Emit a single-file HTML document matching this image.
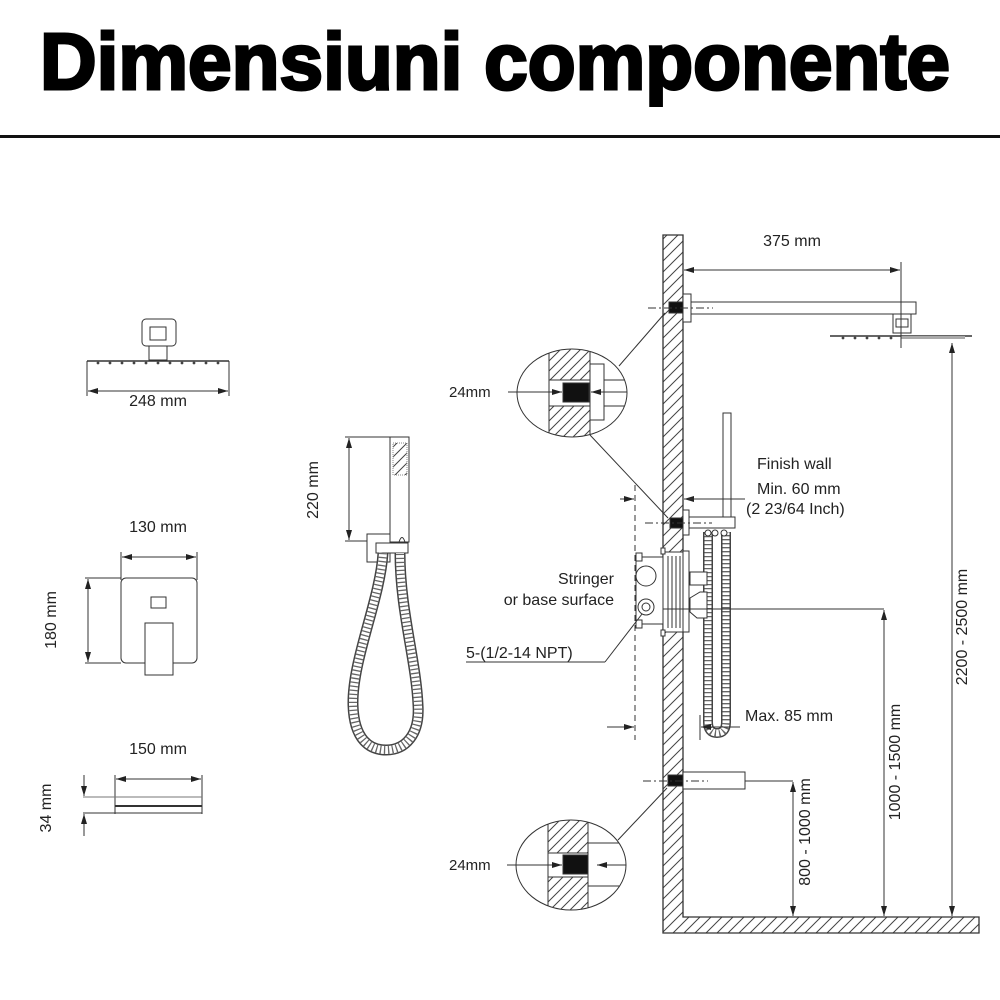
<!DOCTYPE html>
<html><head><meta charset="utf-8"><style>
html,body{margin:0;padding:0;background:#fff;}
svg{display:block;}
text{font-family:"Liberation Sans",Arial,sans-serif;fill:#222;}
</style></head><body>
<svg width="1000" height="1000" viewBox="0 0 1000 1000" xmlns="http://www.w3.org/2000/svg">
<defs>
<pattern id="h" patternUnits="userSpaceOnUse" width="11" height="11">
<path d="M0 11 L11 0 M-3 3 L3 -3 M8 14 L14 8" stroke="#444" stroke-width="1"/>
</pattern>
<pattern id="h2" patternUnits="userSpaceOnUse" width="10" height="10">
<path d="M0 10 L10 0 M-3 3 L3 -3 M7 13 L13 7" stroke="#444" stroke-width="1"/>
</pattern>
<marker id="a" viewBox="0 0 10 6" refX="10" refY="3" markerWidth="10" markerHeight="6" markerUnits="userSpaceOnUse" orient="auto-start-reverse">
<path d="M0 0 L10 3 L0 6 Z" fill="#222"/>
</marker>
<clipPath id="c1"><ellipse cx="572" cy="393" rx="55" ry="44"/></clipPath>
<clipPath id="c2"><ellipse cx="571" cy="865" rx="55" ry="45"/></clipPath>
</defs>

<!-- Title -->
<text x="40" y="89" font-size="80" font-weight="bold" textLength="910" lengthAdjust="spacingAndGlyphs" style="fill:#000" stroke="#000" stroke-width="3">Dimensiuni componente</text>
<rect x="0" y="135" width="1000" height="3" fill="#111"/>

<g stroke="#333" stroke-width="1" fill="none">

<!-- ===== Left: small shower head ===== -->
<rect x="142" y="319" width="34" height="27" rx="4" fill="#fff"/>
<rect x="150" y="327" width="16" height="13"/>
<rect x="149" y="346" width="18" height="14"/>
<line x1="87" y1="361" x2="229" y2="361" stroke-width="1.5"/>
<line x1="87" y1="361" x2="87" y2="396"/>
<line x1="229" y1="361" x2="229" y2="396"/>
<line x1="88" y1="391" x2="228" y2="391" marker-start="url(#a)" marker-end="url(#a)"/>
</g>
<g fill="#444">
<circle cx="98" cy="363" r="1.4"/><circle cx="110" cy="363" r="1.4"/><circle cx="122" cy="363" r="1.4"/><circle cx="134" cy="363" r="1.4"/><circle cx="146" cy="363" r="1.4"/><circle cx="158" cy="363" r="1.4"/><circle cx="170" cy="363" r="1.4"/><circle cx="182" cy="363" r="1.4"/><circle cx="194" cy="363" r="1.4"/><circle cx="206" cy="363" r="1.4"/><circle cx="218" cy="363" r="1.4"/>
</g>
<text x="158" y="406" font-size="16" text-anchor="middle">248 mm</text>

<!-- ===== Left: mixer plate ===== -->
<text x="158" y="532" font-size="16" text-anchor="middle">130 mm</text>
<g stroke="#333" stroke-width="1" fill="none">
<line x1="121" y1="552" x2="121" y2="580"/>
<line x1="197" y1="552" x2="197" y2="580"/>
<line x1="122" y1="557" x2="196" y2="557" marker-start="url(#a)" marker-end="url(#a)"/>
<rect x="121" y="578" width="76" height="85" rx="5"/>
<rect x="151" y="597" width="15" height="11"/>
<rect x="145" y="623" width="28" height="52" fill="#fff"/>
<line x1="85" y1="578" x2="121" y2="578"/>
<line x1="85" y1="663" x2="121" y2="663"/>
<line x1="88" y1="579" x2="88" y2="662" marker-start="url(#a)" marker-end="url(#a)"/>
</g>
<text transform="translate(56,620) rotate(-90)" font-size="16" text-anchor="middle">180 mm</text>

<!-- ===== Left: tub spout ===== -->
<text x="158" y="754" font-size="16" text-anchor="middle">150 mm</text>
<g stroke="#333" stroke-width="1" fill="none">
<line x1="115" y1="775" x2="115" y2="814"/>
<line x1="202" y1="775" x2="202" y2="814"/>
<line x1="116" y1="779" x2="201" y2="779" marker-start="url(#a)" marker-end="url(#a)"/>
<line x1="83" y1="797" x2="202" y2="797" stroke="#777"/>
<line x1="115" y1="806" x2="202" y2="806" stroke-width="2"/>
<line x1="83" y1="813" x2="202" y2="813"/>
<line x1="84" y1="775" x2="84" y2="796" marker-end="url(#a)"/>
<line x1="84" y1="836" x2="84" y2="814" marker-end="url(#a)"/>
</g>
<text transform="translate(51,808) rotate(-90)" font-size="16" text-anchor="middle">34 mm</text>

<!-- ===== Hand shower ===== -->
<g stroke="#333" stroke-width="1" fill="none">
<line x1="345" y1="437" x2="390" y2="437"/>
<line x1="345" y1="541" x2="390" y2="541"/>
<line x1="349" y1="438" x2="349" y2="540" marker-start="url(#a)" marker-end="url(#a)"/>
<rect x="390" y="437" width="19" height="105" fill="#fff"/>
<rect x="393" y="443" width="14" height="32" fill="url(#h2)" stroke="#888" stroke-dasharray="1 1"/>
<rect x="367" y="534" width="23" height="28" fill="#fff"/>
<path d="M399 542 Q402 533 405 542" />
<rect x="376" y="543" width="32" height="10" fill="#fff"/>
</g>
<g fill="none" stroke-linecap="butt">
<path d="M383 553 C380 600,352 660,353 705 C354 740,370 750,386 750 C405 750,420 735,418 705 C416 660,400 610,400 553" stroke="#444" stroke-width="11"/>
<path d="M383 553 C380 600,352 660,353 705 C354 740,370 750,386 750 C405 750,420 735,418 705 C416 660,400 610,400 553" stroke="#fff" stroke-width="8"/>
<path d="M383 553 C380 600,352 660,353 705 C354 740,370 750,386 750 C405 750,420 735,418 705 C416 660,400 610,400 553" stroke="#666" stroke-width="8" stroke-dasharray="1.3 2.7"/>
</g>
<text transform="translate(318,490) rotate(-90)" font-size="16" text-anchor="middle">220 mm</text>

<!-- ===== Wall & floor ===== -->
<path d="M663 235 L683 235 L683 917 L979 917 L979 933 L663 933 Z" fill="url(#h)" stroke="#333" stroke-width="1.3"/>

<!-- shower arm -->
<g stroke="#333" stroke-width="1" fill="#fff">
<rect x="683" y="294" width="8" height="28"/>
<rect x="691" y="302" width="225" height="12"/>
<rect x="669" y="302" width="14" height="11" fill="#111"/>
<line x1="648" y1="308" x2="713" y2="308" stroke-dasharray="8 3 2 3"/>
<rect x="893" y="314" width="18" height="19"/>
<rect x="896" y="319" width="12" height="8"/>
<line x1="830" y1="336" x2="972" y2="336" stroke-width="1.5"/>
<rect x="901" y="336" width="64" height="3" fill="#aaa" stroke="none"/>
<line x1="901" y1="262" x2="901" y2="348"/>
<line x1="684" y1="270" x2="900" y2="270" marker-start="url(#a)" marker-end="url(#a)"/>
<line x1="952" y1="343" x2="952" y2="916" marker-start="url(#a)" marker-end="url(#a)"/>
</g>
<g fill="#444">
<circle cx="843" cy="338" r="1.4"/><circle cx="855" cy="338" r="1.4"/><circle cx="867" cy="338" r="1.4"/><circle cx="879" cy="338" r="1.4"/><circle cx="891" cy="338" r="1.4"/>
</g>
<text x="792" y="246" font-size="16" text-anchor="middle">375 mm</text>
<text transform="translate(967,627) rotate(-90)" font-size="16" text-anchor="middle">2200 - 2500 mm</text>

<!-- upper detail circle -->
<g stroke="#333" stroke-width="1" fill="none">
<ellipse cx="572" cy="393" rx="55" ry="44" fill="#fff"/>
<g clip-path="url(#c1)">
<rect x="549" y="340" width="41" height="100" fill="url(#h2)" stroke="#333"/>
<rect x="549" y="380" width="41" height="26" fill="#fff" stroke="#333"/>
<rect x="563" y="383" width="26" height="19" fill="#111"/>
<rect x="590" y="364" width="14" height="56" fill="#fff"/>
<line x1="604" y1="380" x2="630" y2="380"/>
<line x1="604" y1="406" x2="630" y2="406"/>
<line x1="630" y1="392" x2="591" y2="392" marker-end="url(#a)"/>
</g>
<line x1="508" y1="392" x2="562" y2="392" marker-end="url(#a)"/>
<line x1="619" y1="366" x2="665" y2="313"/>
<line x1="590" y1="435" x2="668" y2="518"/>
</g>
<text x="449" y="397" font-size="15">24mm</text>

<!-- hand shower holder -->
<g stroke="#333" stroke-width="1" fill="#fff">
<rect x="670" y="518" width="13" height="10" fill="#111"/>
<rect x="683" y="510" width="6" height="25"/>
<rect x="689" y="517" width="46" height="11"/>
<rect x="723" y="413" width="8" height="104"/>
<line x1="645" y1="523" x2="712" y2="523" stroke-dasharray="8 3 2 3" fill="none"/>
</g>
<g fill="none" stroke-linecap="butt">
<path d="M708 532 L708 722 Q708 733 717 733 Q726 733 726 722 L726 532" stroke="#444" stroke-width="10"/>
<path d="M708 532 L708 722 Q708 733 717 733 Q726 733 726 722 L726 532" stroke="#fff" stroke-width="7"/>
<path d="M708 532 L708 722 Q708 733 717 733 Q726 733 726 722 L726 532" stroke="#666" stroke-width="7" stroke-dasharray="1.3 2.7"/>
</g>
<g stroke="#333" fill="#fff" stroke-width="1">
<circle cx="708" cy="533" r="3"/><circle cx="715" cy="533" r="3"/><circle cx="724" cy="533" r="3"/>
</g>

<!-- dimension min 60 / max 85 -->
<g stroke="#333" stroke-width="1" fill="none">
<line x1="635" y1="485" x2="635" y2="740" stroke-dasharray="6 4"/>
<line x1="620" y1="499" x2="634" y2="499" marker-end="url(#a)"/>
<line x1="700" y1="499" x2="684" y2="499" marker-end="url(#a)"/>
<line x1="684" y1="499" x2="745" y2="499"/>
<line x1="607" y1="727" x2="634" y2="727" marker-end="url(#a)"/>
<line x1="740" y1="727" x2="701" y2="727" marker-end="url(#a)"/>
<line x1="700" y1="715" x2="700" y2="740"/>
</g>
<text x="757" y="469" font-size="16">Finish wall</text>
<text x="757" y="494" font-size="16">Min. 60 mm</text>
<text x="746" y="514" font-size="16">(2 23/64 Inch)</text>
<text x="745" y="721" font-size="16">Max. 85 mm</text>

<!-- mixer body -->
<g stroke="#333" stroke-width="1" fill="#fff">
<rect x="663" y="552" width="20" height="80"/>
<rect x="636" y="557" width="27" height="67"/>
<rect x="636" y="553" width="6" height="8"/>
<rect x="636" y="620" width="6" height="8"/>
<rect x="661" y="548" width="4" height="6"/>
<rect x="661" y="630" width="4" height="6"/>
<line x1="668" y1="556" x2="668" y2="628"/>
<line x1="672" y1="556" x2="672" y2="628"/>
<line x1="676" y1="556" x2="676" y2="628"/>
<line x1="680" y1="556" x2="680" y2="628"/>
<rect x="683" y="551" width="6" height="81"/>
<circle cx="646" cy="576" r="10"/>
<circle cx="646" cy="607" r="8"/>
<circle cx="646" cy="607" r="4"/>
<rect x="690" y="572" width="17" height="13"/>
<path d="M690 598 L700 592 L707 592 L707 618 L697 618 L690 612 Z"/>
<line x1="663" y1="609" x2="884" y2="609" fill="none"/>
<line x1="884" y1="610" x2="884" y2="916" marker-start="url(#a)" marker-end="url(#a)"/>
</g>
<text transform="translate(900,762) rotate(-90)" font-size="16" text-anchor="middle">1000 - 1500 mm</text>
<text x="614" y="584" font-size="16" text-anchor="end">Stringer</text>
<text x="614" y="605" font-size="16" text-anchor="end">or base surface</text>
<text x="466" y="658" font-size="16">5-(1/2-14 NPT)</text>
<g stroke="#333" stroke-width="1" fill="none">
<line x1="466" y1="662" x2="605" y2="662"/>
<line x1="605" y1="662" x2="642" y2="614"/>
</g>

<!-- tub spout -->
<g stroke="#333" stroke-width="1" fill="#fff">
<rect x="668" y="775" width="15" height="11" fill="#111"/>
<rect x="683" y="772" width="62" height="17"/>
<line x1="643" y1="781" x2="708" y2="781" stroke-dasharray="8 3 2 3" fill="none"/>
<line x1="745" y1="781" x2="793" y2="781" fill="none"/>
<line x1="793" y1="782" x2="793" y2="916" marker-start="url(#a)" marker-end="url(#a)"/>
</g>
<text transform="translate(810,832) rotate(-90)" font-size="16" text-anchor="middle">800 - 1000 mm</text>

<!-- lower detail circle -->
<g stroke="#333" stroke-width="1" fill="none">
<ellipse cx="571" cy="865" rx="55" ry="45" fill="#fff"/>
<g clip-path="url(#c2)">
<rect x="548" y="815" width="40" height="100" fill="url(#h2)" stroke="#333"/>
<rect x="548" y="853" width="40" height="24" fill="#fff" stroke="#333"/>
<rect x="563" y="855" width="25" height="19" fill="#111"/>
<line x1="588" y1="843" x2="630" y2="843"/>
<line x1="588" y1="886" x2="630" y2="886"/>
<line x1="627" y1="865" x2="597" y2="865" marker-end="url(#a)"/>
</g>
<line x1="507" y1="865" x2="562" y2="865" marker-end="url(#a)"/>
<line x1="618" y1="840" x2="667" y2="788"/>
</g>
<text x="449" y="870" font-size="15">24mm</text>

</svg>
</body></html>
